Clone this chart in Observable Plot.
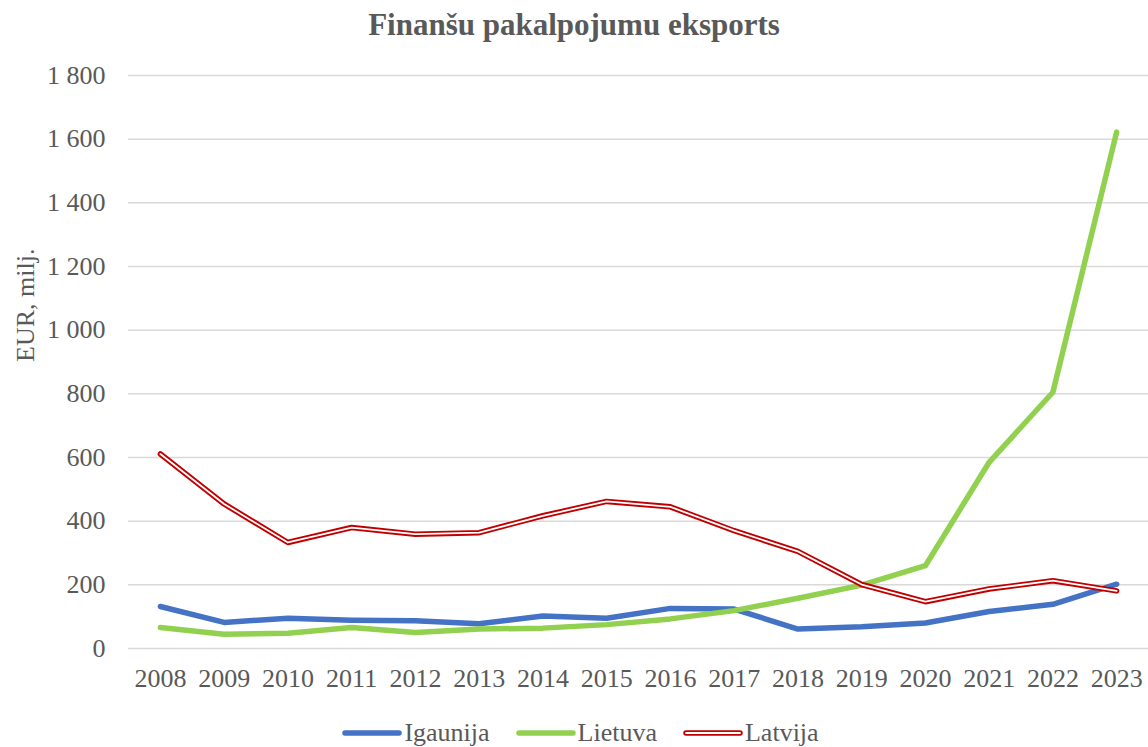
<!DOCTYPE html>
<html>
<head>
<meta charset="utf-8">
<script src="https://cdn.jsdelivr.net/npm/d3@7"></script>
<script src="https://cdn.jsdelivr.net/npm/@observablehq/plot@0.6"></script>
<style>
  body { margin: 0; background: #fff; font-family: "Liberation Serif", "Times New Roman", serif; color: #595959; }
  #wrap { width: 1148px; height: 747px; overflow: hidden; }
  #title { height: 50px; line-height: 50px; text-align: center; font-weight: bold; font-size: 31px; color: #595959; }
  #legend { display: flex; justify-content: center; align-items: center; margin-top: 13px; height: 30px; font-size: 26px; line-height: 30px; padding-left: 13px; }
  .item { display: flex; align-items: center; margin: 0 13px; }
  .item svg { display: block; margin-right: 2px; }
</style>
</head>
<body>
<div id="wrap">
  <div id="title">Finanšu pakalpojumu eksports</div>
  <div id="chart"></div>
  <div id="legend"></div>
</div>
<script>
const years = ["2008","2009","2010","2011","2012","2013","2014","2015","2016","2017","2018","2019","2020","2021","2022","2023"];
const igaunija = [132, 82, 95, 89, 87, 78, 102, 95, 126, 124, 61, 68, 80, 116, 139, 202];
const lietuva  = [66, 45, 48, 66, 50, 61, 64, 75, 93, 119, 158, 199, 260, 585, 805, 1622];
const latvija  = [611, 454, 333, 380, 359, 364, 417, 462, 445, 370, 305, 201, 147, 187, 213, 181];
const seriesNames = ["Igaunija", "Lietuva", "Latvija"];
const yTicks = [0, 200, 400, 600, 800, 1000, 1200, 1400, 1600, 1800];
const yLabel = "EUR, milj.";

const colors = { Igaunija: "#4472C4", Lietuva: "#92D050", Latvija: "#C00000" };
const toRows = (vals) => years.map((y, i) => ({ year: y, value: vals[i] }));
const fmt = d => d3.format(",")(d).replace(/,/g, " ");

const lineOpts = { x: "year", y: "value", strokeLinecap: "round", strokeLinejoin: "round" };

const plot = Plot.plot({
  width: 1148,
  height: 655,
  marginLeft: 128,
  marginRight: 0,
  marginTop: 25,
  marginBottom: 57,
  style: { fontFamily: "Liberation Serif, Times New Roman, serif", fontSize: "26px", color: "#595959", background: "white" },
  x: { type: "point", domain: years, padding: 0.5, round: false, label: null },
  y: { domain: [0, 1800], label: null },
  marks: [
    Plot.ruleY(yTicks, { stroke: "#d9d9d9", strokeWidth: 1.5 }),
    Plot.axisY({ ticks: yTicks, tickSize: 0, tickPadding: 23, tickFormat: fmt, label: null }),
    Plot.axisX({ tickSize: 0, tickPadding: 20, label: null }),
    Plot.lineY(toRows(igaunija), { ...lineOpts, stroke: colors.Igaunija, strokeWidth: 5.5 }),
    Plot.lineY(toRows(lietuva), { ...lineOpts, stroke: colors.Lietuva, strokeWidth: 5.5 }),
    Plot.lineY(toRows(latvija), { ...lineOpts, stroke: colors.Latvija, strokeWidth: 5.5 }),
    Plot.lineY(toRows(latvija), { ...lineOpts, stroke: "white", strokeWidth: 1.8 }),
    Plot.text([yLabel], { text: d => d, frameAnchor: "left", rotate: -90, dx: -103, fontSize: 26, fill: "#595959" })
  ]
});
document.getElementById("chart").appendChild(plot);

const legend = document.getElementById("legend");
seriesNames.forEach(name => {
  const item = document.createElement("div");
  item.className = "item";
  const isDouble = name === "Latvija";
  item.innerHTML =
    `<svg width="60" height="10"><line x1="3" y1="5" x2="57" y2="5" stroke="${colors[name]}" stroke-width="5.5" stroke-linecap="round"/>` +
    (isDouble ? `<line x1="3" y1="5" x2="57" y2="5" stroke="white" stroke-width="1.8" stroke-linecap="round"/>` : "") +
    `</svg><span>${name}</span>`;
  legend.appendChild(item);
});
</script>
</body>
</html>
